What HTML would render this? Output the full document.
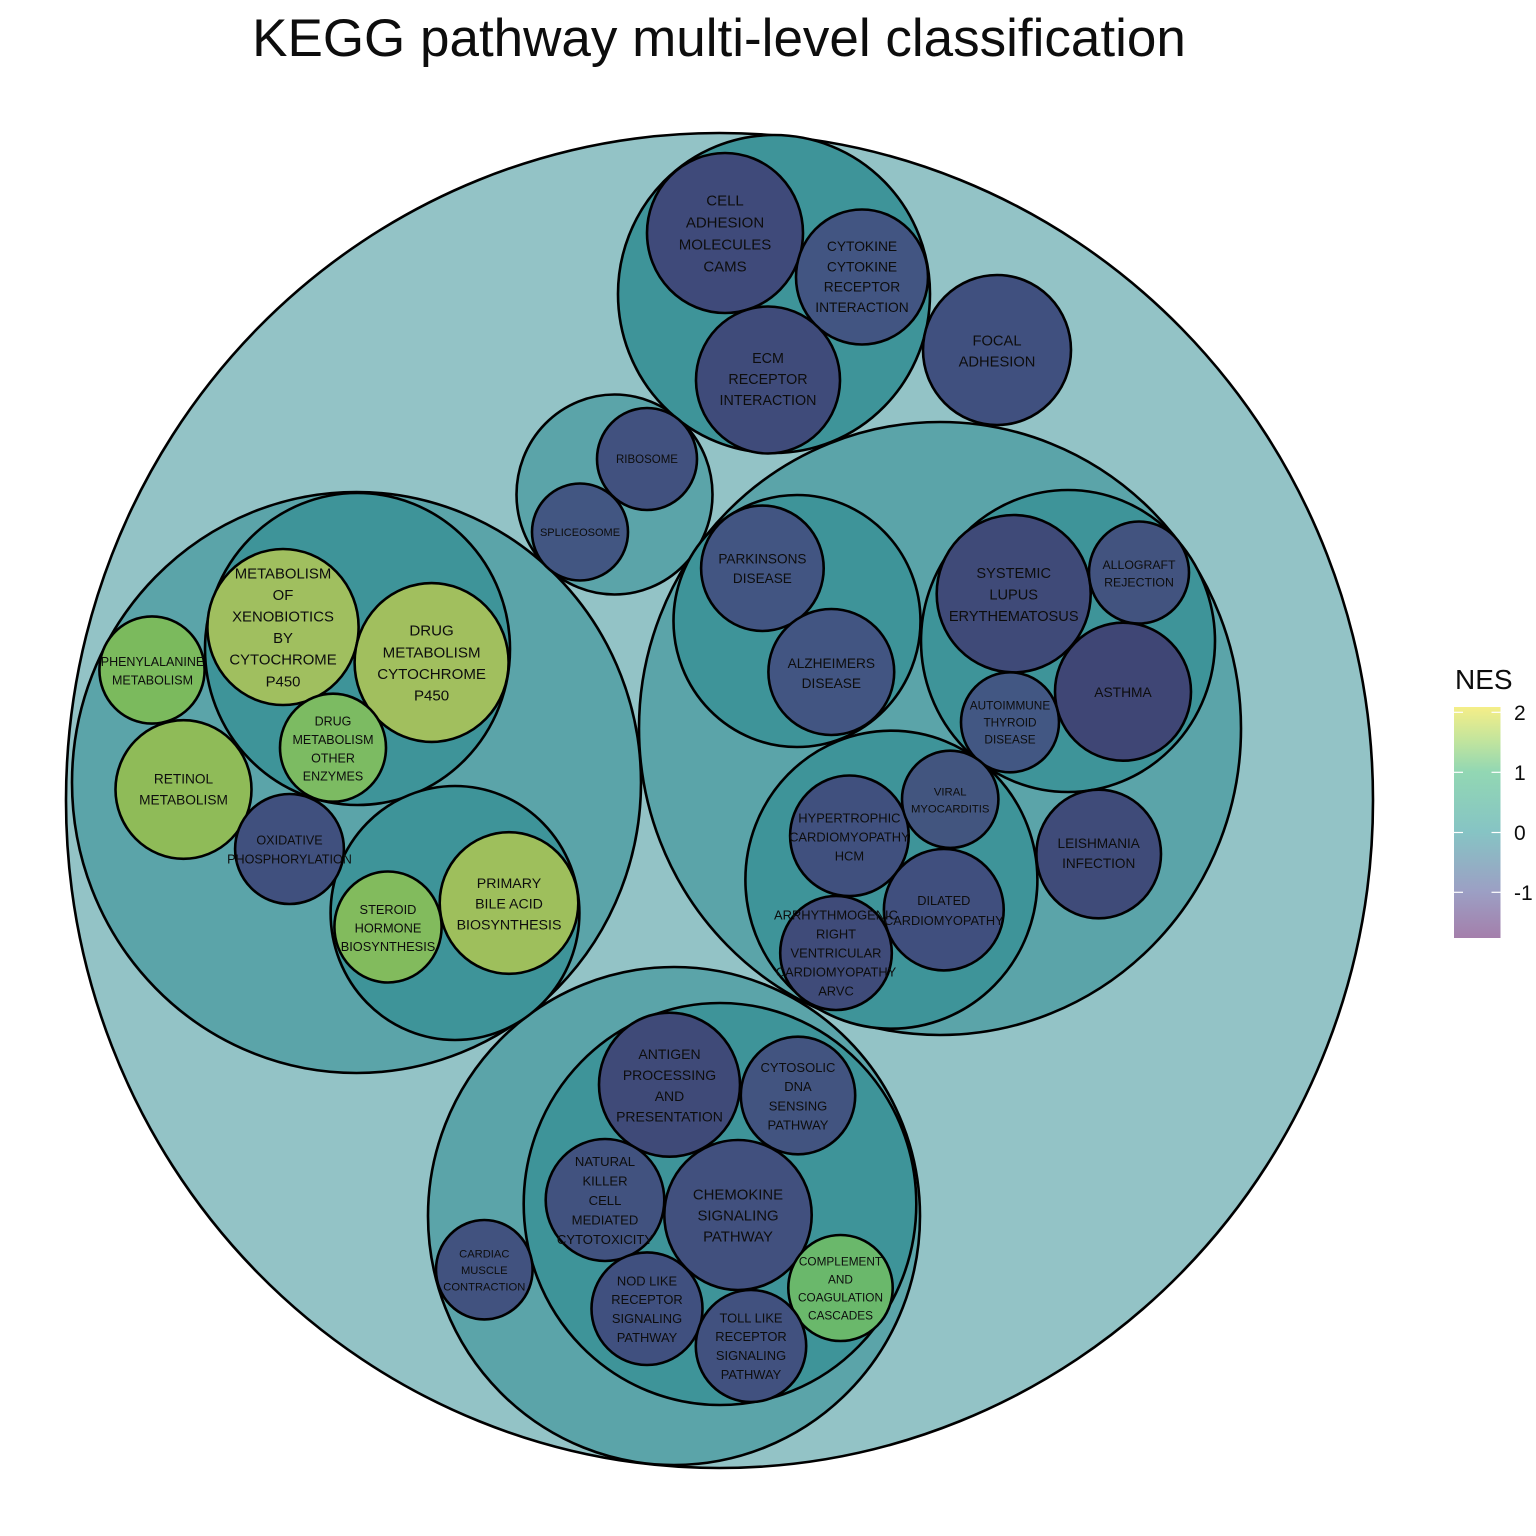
<!DOCTYPE html>
<html><head><meta charset="utf-8"><style>
html,body{margin:0;padding:0;background:#fff;}
svg{display:block;}
text{font-family:"Liberation Sans",Arial,sans-serif;fill:#0d0d0d;}
.l text{text-anchor:middle;}
</style></head><body>
<svg width="1536" height="1536" viewBox="0 0 1536 1536" xmlns="http://www.w3.org/2000/svg">
<defs>
<linearGradient id="nes" x1="0" y1="1" x2="0" y2="0">
<stop offset="0" stop-color="#a47fab"/>
<stop offset="0.2" stop-color="#9c9fc4"/>
<stop offset="0.46" stop-color="#86c4c4"/>
<stop offset="0.72" stop-color="#92d7b3"/>
<stop offset="0.86" stop-color="#c4e59c"/>
<stop offset="1" stop-color="#f5ee88"/>
</linearGradient>
</defs>
<rect width="1536" height="1536" fill="#fff"/>
<text x="719" y="56" font-size="53" text-anchor="middle">KEGG pathway multi-level classification</text>

<g stroke="#000" stroke-width="2.6">
<!-- root -->
<ellipse cx="719.5" cy="800.5" rx="653.5" ry="667.5" fill="#93c3c6"/>
<!-- level 2 -->
<g fill="#5ba4a9">
<ellipse cx="356.5" cy="782.5" rx="284.5" ry="290.5"/>
<ellipse cx="940" cy="728.5" rx="301" ry="306.5"/>
<ellipse cx="674" cy="1216" rx="246" ry="249"/>
<ellipse cx="614.5" cy="494.5" rx="98" ry="100"/>
</g>
<!-- level 3 -->
<g fill="#3e9499">
<ellipse cx="774" cy="294" rx="156" ry="159"/>
<ellipse cx="357.5" cy="649" rx="152.5" ry="156"/>
<ellipse cx="455" cy="913" rx="124.4" ry="127"/>
<ellipse cx="797" cy="621" rx="123.5" ry="126"/>
<ellipse cx="1068" cy="641" rx="147" ry="151"/>
<ellipse cx="891.4" cy="879.7" rx="146" ry="149"/>
<ellipse cx="720" cy="1204" rx="196.3" ry="201"/>
</g>
<!-- leaves -->
<ellipse cx="725" cy="233" rx="78" ry="80" fill="#3f4a7a"/>
<ellipse cx="862" cy="277" rx="66" ry="67.5" fill="#425582"/>
<ellipse cx="768" cy="380" rx="72" ry="73.5" fill="#3f4b7a"/>
<ellipse cx="997" cy="350" rx="74" ry="75" fill="#40507f"/>
<ellipse cx="647" cy="459" rx="50" ry="51" fill="#41517f"/>
<ellipse cx="580" cy="532" rx="48" ry="48.5" fill="#425682"/>
<ellipse cx="283" cy="627" rx="75.6" ry="78" fill="#a0bf5f"/>
<ellipse cx="431.6" cy="662.5" rx="77" ry="79.4" fill="#a1bf5e"/>
<ellipse cx="333" cy="747.7" rx="53" ry="54" fill="#7cbb62"/>
<ellipse cx="152" cy="670" rx="52.6" ry="53.6" fill="#7bba5d"/>
<ellipse cx="183.5" cy="789.5" rx="68" ry="69.3" fill="#8fbb58"/>
<ellipse cx="289.5" cy="849" rx="54.4" ry="55" fill="#40507e"/>
<ellipse cx="388" cy="927" rx="53.6" ry="55.5" fill="#82bb5d"/>
<ellipse cx="509" cy="903" rx="69.3" ry="70.8" fill="#9ebf5c"/>
<ellipse cx="762.4" cy="568.3" rx="61.3" ry="62.7" fill="#425582"/>
<ellipse cx="831.3" cy="672" rx="62.9" ry="63" fill="#425582"/>
<ellipse cx="1013.7" cy="593.7" rx="77" ry="78.7" fill="#3f4a78"/>
<ellipse cx="1139" cy="572.5" rx="50" ry="51" fill="#42537f"/>
<ellipse cx="1123" cy="691.7" rx="68" ry="69" fill="#3f4675"/>
<ellipse cx="1010" cy="722.3" rx="49" ry="50" fill="#425783"/>
<ellipse cx="849.4" cy="835.8" rx="59.3" ry="60.3" fill="#40507e"/>
<ellipse cx="950.2" cy="799.3" rx="48.2" ry="48.6" fill="#42557f"/>
<ellipse cx="943.8" cy="909.7" rx="59.9" ry="60.7" fill="#404f7e"/>
<ellipse cx="836" cy="953" rx="55.8" ry="57" fill="#3f4b79"/>
<ellipse cx="1098.7" cy="854" rx="62.3" ry="64.3" fill="#3f4b79"/>
<ellipse cx="669.5" cy="1084.7" rx="70.5" ry="72" fill="#3f4a78"/>
<ellipse cx="798" cy="1095.5" rx="57.2" ry="58.8" fill="#425480"/>
<ellipse cx="605" cy="1200" rx="59.3" ry="61" fill="#41527f"/>
<ellipse cx="738" cy="1215" rx="73.7" ry="75" fill="#41507e"/>
<ellipse cx="840.5" cy="1288" rx="52.2" ry="53" fill="#6ab86b"/>
<ellipse cx="647" cy="1308.7" rx="55.5" ry="56.3" fill="#40507f"/>
<ellipse cx="751" cy="1346" rx="55.2" ry="56" fill="#41517f"/>
<ellipse cx="484.3" cy="1269.7" rx="48.3" ry="49.7" fill="#41527f"/>
</g>

<g class="l">
<text font-size="15"><tspan x="725" y="205.4">CELL</tspan><tspan x="725" y="227.4">ADHESION</tspan><tspan x="725" y="249.4">MOLECULES</tspan><tspan x="725" y="271.4">CAMS</tspan></text>
<text font-size="13.8"><tspan x="862" y="251">CYTOKINE</tspan><tspan x="862" y="271.3">CYTOKINE</tspan><tspan x="862" y="291.6">RECEPTOR</tspan><tspan x="862" y="311.9">INTERACTION</tspan></text>
<text font-size="14.3"><tspan x="768" y="363.1">ECM</tspan><tspan x="768" y="384.1">RECEPTOR</tspan><tspan x="768" y="405.1">INTERACTION</tspan></text>
<text font-size="14.7"><tspan x="997" y="345.3">FOCAL</tspan><tspan x="997" y="366.3">ADHESION</tspan></text>
<text font-size="11.5" x="647" y="463.1">RIBOSOME</text>
<text font-size="11" x="580" y="535.9">SPLICEOSOME</text>
<text font-size="14.9"><tspan x="283" y="578.3">METABOLISM</tspan><tspan x="283" y="599.9">OF</tspan><tspan x="283" y="621.5">XENOBIOTICS</tspan><tspan x="283" y="643.1">BY</tspan><tspan x="283" y="664.7">CYTOCHROME</tspan><tspan x="283" y="686.3">P450</tspan></text>
<text font-size="15.1"><tspan x="431.6" y="635.6">DRUG</tspan><tspan x="431.6" y="657.3">METABOLISM</tspan><tspan x="431.6" y="679">CYTOCHROME</tspan><tspan x="431.6" y="700.7">P450</tspan></text>
<text font-size="12.5"><tspan x="333" y="725.7">DRUG</tspan><tspan x="333" y="744">METABOLISM</tspan><tspan x="333" y="762.3">OTHER</tspan><tspan x="333" y="780.6">ENZYMES</tspan></text>
<text font-size="12.5"><tspan x="152.5" y="666">PHENYLALANINE</tspan><tspan x="152.5" y="684.5">METABOLISM</tspan></text>
<text font-size="13.7"><tspan x="183.5" y="783.4">RETINOL</tspan><tspan x="183.5" y="804.4">METABOLISM</tspan></text>
<text font-size="12.6"><tspan x="289.5" y="844.6">OXIDATIVE</tspan><tspan x="289.5" y="863.5">PHOSPHORYLATION</tspan></text>
<text font-size="12.8"><tspan x="388" y="914">STEROID</tspan><tspan x="388" y="932.4">HORMONE</tspan><tspan x="388" y="950.8">BIOSYNTHESIS</tspan></text>
<text font-size="14.2"><tspan x="509" y="887.9">PRIMARY</tspan><tspan x="509" y="908.6">BILE ACID</tspan><tspan x="509" y="929.3">BIOSYNTHESIS</tspan></text>
<text font-size="13.6"><tspan x="762.4" y="563.6">PARKINSONS</tspan><tspan x="762.4" y="583.2">DISEASE</tspan></text>
<text font-size="13.7"><tspan x="831.3" y="667.9">ALZHEIMERS</tspan><tspan x="831.3" y="688.1">DISEASE</tspan></text>
<text font-size="14.6"><tspan x="1013.7" y="577.9">SYSTEMIC</tspan><tspan x="1013.7" y="599.4">LUPUS</tspan><tspan x="1013.7" y="620.9">ERYTHEMATOSUS</tspan></text>
<text font-size="12.3"><tspan x="1139" y="569.1">ALLOGRAFT</tspan><tspan x="1139" y="586.4">REJECTION</tspan></text>
<text font-size="13.8" x="1123" y="697.2">ASTHMA</text>
<text font-size="11.8"><tspan x="1010" y="709.5">AUTOIMMUNE</tspan><tspan x="1010" y="726.5">THYROID</tspan><tspan x="1010" y="743.5">DISEASE</tspan></text>
<text font-size="12.9"><tspan x="849.4" y="822.3">HYPERTROPHIC</tspan><tspan x="849.4" y="841.4">CARDIOMYOPATHY</tspan><tspan x="849.4" y="860.5">HCM</tspan></text>
<text font-size="11.3"><tspan x="950.2" y="795.6">VIRAL</tspan><tspan x="950.2" y="812.6">MYOCARDITIS</tspan></text>
<text font-size="12.8"><tspan x="943.8" y="904.8">DILATED</tspan><tspan x="943.8" y="924.8">CARDIOMYOPATHY</tspan></text>
<text font-size="12.9"><tspan x="836" y="919.6">ARRHYTHMOGENIC</tspan><tspan x="836" y="938.6">RIGHT</tspan><tspan x="836" y="957.6">VENTRICULAR</tspan><tspan x="836" y="976.6">CARDIOMYOPATHY</tspan><tspan x="836" y="995.6">ARVC</tspan></text>
<text font-size="13.6"><tspan x="1098.7" y="847.9">LEISHMANIA</tspan><tspan x="1098.7" y="868.1">INFECTION</tspan></text>
<text font-size="14"><tspan x="669.5" y="1059">ANTIGEN</tspan><tspan x="669.5" y="1079.9">PROCESSING</tspan><tspan x="669.5" y="1100.8">AND</tspan><tspan x="669.5" y="1121.7">PRESENTATION</tspan></text>
<text font-size="13"><tspan x="798" y="1071.9">CYTOSOLIC</tspan><tspan x="798" y="1091.1">DNA</tspan><tspan x="798" y="1110.3">SENSING</tspan><tspan x="798" y="1129.5">PATHWAY</tspan></text>
<text font-size="13.1"><tspan x="605" y="1166">NATURAL</tspan><tspan x="605" y="1185.5">KILLER</tspan><tspan x="605" y="1205">CELL</tspan><tspan x="605" y="1224.5">MEDIATED</tspan><tspan x="605" y="1244">CYTOTOXICITY</tspan></text>
<text font-size="14.9"><tspan x="738" y="1199.3">CHEMOKINE</tspan><tspan x="738" y="1220.5">SIGNALING</tspan><tspan x="738" y="1241.7">PATHWAY</tspan></text>
<text font-size="11.8"><tspan x="840.5" y="1265.5">COMPLEMENT</tspan><tspan x="840.5" y="1283.5">AND</tspan><tspan x="840.5" y="1301.5">COAGULATION</tspan><tspan x="840.5" y="1319.5">CASCADES</tspan></text>
<text font-size="12.9"><tspan x="647" y="1285.4">NOD LIKE</tspan><tspan x="647" y="1304.2">RECEPTOR</tspan><tspan x="647" y="1323">SIGNALING</tspan><tspan x="647" y="1341.8">PATHWAY</tspan></text>
<text font-size="12.9"><tspan x="751" y="1322.4">TOLL LIKE</tspan><tspan x="751" y="1341.2">RECEPTOR</tspan><tspan x="751" y="1360">SIGNALING</tspan><tspan x="751" y="1378.8">PATHWAY</tspan></text>
<text font-size="11.2"><tspan x="484.3" y="1257.3">CARDIAC</tspan><tspan x="484.3" y="1274">MUSCLE</tspan><tspan x="484.3" y="1290.7">CONTRACTION</tspan></text>
</g>

<!-- legend -->
<text x="1455" y="689" font-size="28">NES</text>
<rect x="1454" y="707" width="46.5" height="231" fill="url(#nes)"/>
<g stroke="#fff" stroke-width="1.2">
<line x1="1454" y1="712.3" x2="1463" y2="712.3"/><line x1="1491.5" y1="712.3" x2="1500.5" y2="712.3"/>
<line x1="1454" y1="772.3" x2="1463" y2="772.3"/><line x1="1491.5" y1="772.3" x2="1500.5" y2="772.3"/>
<line x1="1454" y1="832.5" x2="1463" y2="832.5"/><line x1="1491.5" y1="832.5" x2="1500.5" y2="832.5"/>
<line x1="1454" y1="892.3" x2="1463" y2="892.3"/><line x1="1491.5" y1="892.3" x2="1500.5" y2="892.3"/>
</g>
<g font-size="21">
<text x="1514" y="719.8">2</text>
<text x="1514" y="779.8">1</text>
<text x="1514" y="840">0</text>
<text x="1514" y="899.8">-1</text>
</g>
</svg>
</body></html>
